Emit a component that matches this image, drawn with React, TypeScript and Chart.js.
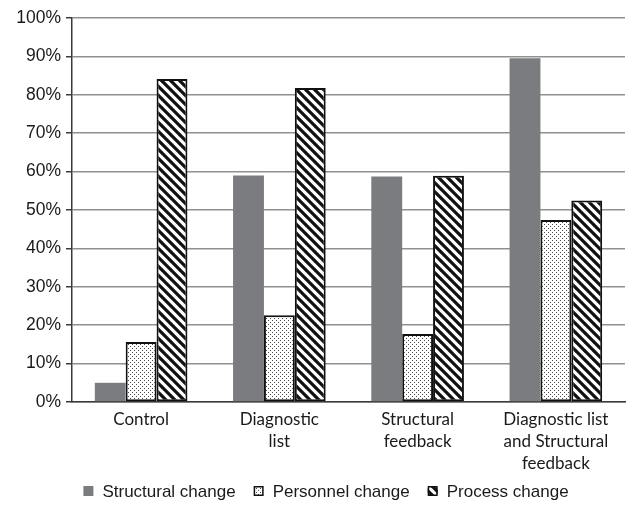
import React, { useEffect, useRef } from "react";
import { Chart, registerables } from "chart.js";
Chart.register(...registerables);

const categories: string[][] = [
  ["Control"],
  ["Diagnostic", "list"],
  ["Structural", "feedback"],
  ["Diagnostic list", "and Structural", "feedback"],
];
const seriesNames = ["Structural change", "Personnel change", "Process change"];
const structuralValues = [5, 59, 58.7, 89.5];
const personnelValues = [15.6, 22.6, 17.7, 47.4];
const processValues = [84.1, 81.8, 58.9, 52.5];
const yTickStep = 10;
const yMax = 100;

function dotPattern(ctx: CanvasRenderingContext2D) {
  const c = document.createElement("canvas");
  c.width = 4;
  c.height = 4;
  const g = c.getContext("2d")!;
  g.fillStyle = "#ffffff";
  g.fillRect(0, 0, 4, 4);
  g.fillStyle = "#4a4a4a";
  g.fillRect(0, 0, 1, 1);
  g.fillRect(2, 2, 1, 1);
  return ctx.createPattern(c, "repeat")!;
}

function stripePattern(ctx: CanvasRenderingContext2D) {
  const s = 9;
  const c = document.createElement("canvas");
  c.width = s;
  c.height = s;
  const g = c.getContext("2d")!;
  g.fillStyle = "#ffffff";
  g.fillRect(0, 0, s, s);
  g.strokeStyle = "#111111";
  g.lineWidth = 3.2;
  g.beginPath();
  for (const k of [-s, 0, s]) {
    g.moveTo(-1, k - 1);
    g.lineTo(s + 1, s + k + 1);
  }
  g.stroke();
  return ctx.createPattern(c, "repeat")!;
}

const legendPlugin = {
  id: "customLegend",
  afterDraw(chart: any) {
    const ctx: CanvasRenderingContext2D = chart.ctx;
    ctx.save();
    ctx.font = '17px "Liberation Sans", Arial, sans-serif';
    ctx.textBaseline = "middle";
    ctx.textAlign = "left";
    const box = 10;
    const gapText = 9;
    const gapItem = 18;
    const items = chart.data.datasets.map((ds: any) => ({
      label: ds.label,
      fill: ds.backgroundColor,
      border: ds.borderColor,
      bw: ds.borderWidth,
      w: ctx.measureText(ds.label).width,
    }));
    let total = 0;
    items.forEach((it: any, i: number) => {
      total += box + gapText + it.w + (i < items.length - 1 ? gapItem : 0);
    });
    const cx = chart.width / 2 + 10;
    const y = chart.height - 15;
    let x = cx - total / 2;
    items.forEach((it: any) => {
      ctx.fillStyle = it.fill;
      ctx.fillRect(x, y - box / 2, box, box);
      if (it.bw > 0) {
        ctx.strokeStyle = it.border;
        ctx.lineWidth = 1.5;
        ctx.strokeRect(x + 0.75, y - box / 2 + 0.75, box - 1.5, box - 1.5);
      }
      ctx.fillStyle = "#1a1a1a";
      ctx.fillText(it.label, x + box + gapText, y + 1);
      x += box + gapText + it.w + gapItem;
    });
    ctx.restore();
  },
};

export default function App() {
  const ref = useRef<HTMLCanvasElement>(null);
  useEffect(() => {
    const canvas = ref.current!;
    const ctx = canvas.getContext("2d")!;
    const dots = dotPattern(ctx);
    const stripes = stripePattern(ctx);
    const chart = new Chart(canvas, {
      type: "bar",
      data: {
        labels: categories,
        datasets: [
          {
            label: seriesNames[0],
            data: structuralValues,
            backgroundColor: "#7b7c80",
            borderColor: "#7b7c80",
            borderWidth: 0,
          },
          {
            label: seriesNames[1],
            data: personnelValues,
            backgroundColor: dots as any,
            borderColor: "#111111",
            borderWidth: 2,
            borderSkipped: false,
          },
          {
            label: seriesNames[2],
            data: processValues,
            backgroundColor: stripes as any,
            borderColor: "#111111",
            borderWidth: 2,
            borderSkipped: false,
          },
        ],
      },
      options: {
        animation: false,
        responsive: false,
        maintainAspectRatio: false,
        datasets: { bar: { categoryPercentage: 0.67, barPercentage: 1.0 } },
        layout: { padding: { left: 0, right: 7, top: 18, bottom: 30 } },
        plugins: {
          legend: { display: false },
          tooltip: { enabled: false },
        },
        scales: {
          x: {
            grid: { display: false, drawTicks: false },
            border: { display: true, color: "#3a3a3a", width: 1.5 },
            ticks: {
              font: { family: "Lato, 'Open Sans', sans-serif", size: 17, lineHeight: 1.3 },
              color: "#1a1a1a",
              maxRotation: 0,
              autoSkip: false,
              padding: 6,
            },
            afterFit: (s: any) => {
              s.height = 74;
            },
          },
          y: {
            min: 0,
            max: yMax,
            ticks: {
              stepSize: yTickStep,
              callback: (v: any) => v + "%",
              font: { family: "'Liberation Sans', Arial, sans-serif", size: 17.5 },
              color: "#1a1a1a",
              padding: 5,
            },
            grid: {
              color: "#909090",
              lineWidth: 1.5,
              tickColor: "#3a3a3a",
              tickLength: 6,
              tickWidth: 1.5,
            },
            border: { color: "#3a3a3a", width: 1.5 },
            afterFit: (s: any) => {
              s.width = 72;
            },
          },
        },
      },
      plugins: [legendPlugin],
    });
    return () => chart.destroy();
  }, []);
  return (
    <div style={{ position: "fixed", left: 0, top: 0, width: 632, height: 506, background: "#fff" }}>
      <canvas ref={ref} width={632} height={506} style={{ display: "block", width: 632, height: 506 }} />
    </div>
  );
}
